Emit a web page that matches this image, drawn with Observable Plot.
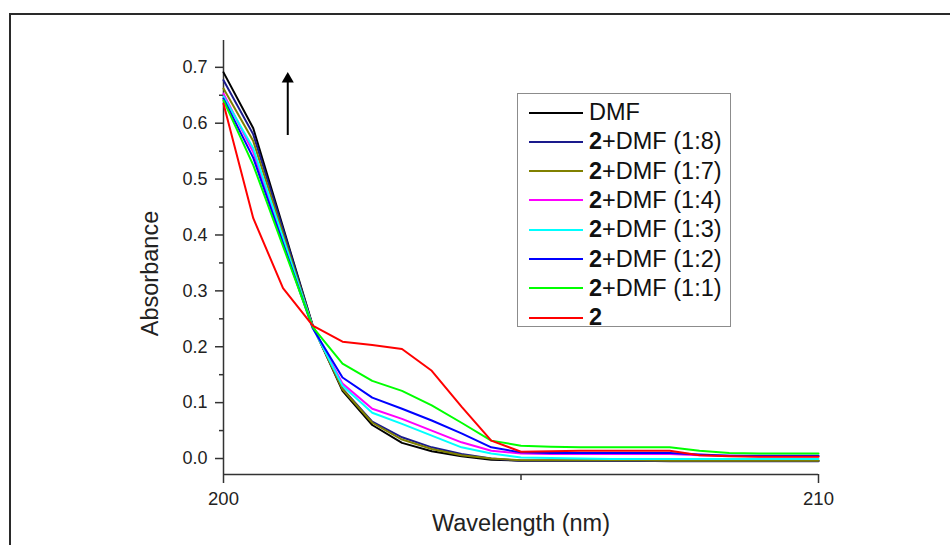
<!DOCTYPE html>
<html><head><meta charset="utf-8">
<script src="https://cdn.jsdelivr.net/npm/d3@7"></script>
<script src="https://cdn.jsdelivr.net/npm/@observablehq/plot@0.6"></script>
<style>
html,body{margin:0;padding:0;background:#fff;overflow:hidden;}
#wrap{position:relative;width:950px;height:545px;overflow:hidden;font-family:"Liberation Sans",Arial,sans-serif;}
#border{position:absolute;left:9px;top:13px;width:1000px;height:600px;border:2px solid #2a2a2a;}
#chart{position:absolute;left:0;top:0;}
#legend{position:absolute;left:517px;top:93px;width:214px;height:234px;border:1.5px solid #8c8c8c;background:#fff;box-sizing:border-box;}
.row{position:absolute;left:0;height:30px;display:flex;align-items:center;font-size:23.5px;color:#111;white-space:nowrap;}
.sw{width:54px;height:2px;margin-left:11px;margin-right:6px;}
</style></head>
<body>
<div id="wrap">
  <div id="border"></div>
  <div id="chart"></div>
  <div id="legend"></div>
</div>
<script>
const wavelength = [200, 200.5, 201, 201.5, 202, 202.5, 203, 203.5, 204, 204.5, 205, 205.5, 206, 206.5, 207, 207.5, 208, 208.5, 209, 209.5, 210];
const dmf   = [0.691, 0.591, 0.414, 0.238, 0.121, 0.060, 0.028, 0.013, 0.004, -0.002, -0.004, -0.004, -0.004, -0.004, -0.004, -0.004, -0.004, -0.004, -0.004, -0.004, -0.004];
const r18   = [0.677, 0.580, 0.410, 0.237, 0.125, 0.066, 0.038, 0.020, 0.008, 0.000, -0.004, -0.004, -0.004, -0.004, -0.004, -0.005, -0.005, -0.005, -0.005, -0.005, -0.005];
const r17   = [0.662, 0.568, 0.402, 0.236, 0.124, 0.064, 0.034, 0.017, 0.006, 0.000, -0.003, -0.003, -0.003, -0.003, -0.003, -0.004, -0.004, -0.004, -0.004, -0.004, -0.004];
const r14   = [0.653, 0.548, 0.390, 0.235, 0.134, 0.089, 0.071, 0.050, 0.029, 0.014, 0.009, 0.008, 0.008, 0.008, 0.008, 0.008, 0.006, 0.005, 0.004, 0.004, 0.004];
const r13   = [0.648, 0.555, 0.395, 0.235, 0.130, 0.082, 0.062, 0.041, 0.020, 0.009, 0.002, 0.001, 0.000, -0.001, -0.001, -0.001, -0.001, -0.001, -0.001, -0.001, -0.001];
const r12   = [0.644, 0.538, 0.385, 0.233, 0.145, 0.109, 0.089, 0.068, 0.045, 0.020, 0.011, 0.010, 0.010, 0.010, 0.010, 0.010, 0.007, 0.005, 0.005, 0.005, 0.005];
const r11   = [0.641, 0.525, 0.380, 0.235, 0.170, 0.139, 0.121, 0.095, 0.064, 0.032, 0.023, 0.021, 0.020, 0.020, 0.020, 0.020, 0.014, 0.010, 0.009, 0.009, 0.009];
const pure2 = [0.635, 0.430, 0.305, 0.238, 0.209, 0.203, 0.196, 0.157, 0.093, 0.032, 0.012, 0.013, 0.014, 0.014, 0.014, 0.014, 0.006, 0.004, 0.003, 0.003, 0.003];

const seriesNames  = ["DMF", "2+DMF (1:8)", "2+DMF (1:7)", "2+DMF (1:4)", "2+DMF (1:3)", "2+DMF (1:2)", "2+DMF (1:1)", "2"];
const seriesColors = ["#000000", "#1a1a8c", "#808000", "#ff00ff", "#00ffff", "#0000ff", "#00ff00", "#ff0000"];
const seriesValues = [dmf, r18, r17, r14, r13, r12, r11, pure2];

const yTicks = [0, 0.1, 0.2, 0.3, 0.4, 0.5, 0.6, 0.7];
const yMinorTicks = [0.05, 0.15, 0.25, 0.35, 0.45, 0.55, 0.65];
const xTicks = [200, 210];
const xMinorTicks = [205];
const xDomain = [200, 210];
const yDomain = [-0.0286, 0.748];
const arrowAnno = [{x: 201.08, y1: 0.578, y2: 0.679}];

const rows = seriesValues.flatMap((vals, k) => vals.map((v, i) => ({x: wavelength[i], y: v, s: seriesNames[k]})));

const chart = Plot.plot({
  width: 950, height: 545,
  marginLeft: 223, marginRight: 132, marginTop: 40, marginBottom: 71,
  style: {background: "transparent", fontFamily: "Liberation Sans, Arial, sans-serif", color: "#222"},
  x: {domain: xDomain},
  y: {domain: yDomain},
  color: {domain: seriesNames, range: seriesColors},
  marks: [
    Plot.axisY(yTicks, {tickSize: 8, tickPadding: 8, fontSize: 18, tickFormat: d3.format(".1f"), label: null, stroke: "#333", strokeWidth: 1.5}),
    Plot.axisY(yMinorTicks, {tickSize: 4, tickFormat: () => "", label: null, stroke: "#333", strokeWidth: 1.5}),
    Plot.axisX(xTicks, {tickSize: 9, tickFormat: () => "", label: null, stroke: "#333", strokeWidth: 1.5}),
    Plot.axisX(xMinorTicks, {tickSize: 6, tickFormat: () => "", label: null, stroke: "#333", strokeWidth: 1.5}),
    Plot.text(xTicks, {x: d => d, frameAnchor: "bottom", dy: 30, fontSize: 18.5, fill: "#222", text: d => String(d)}),
    Plot.ruleX([xDomain[0]], {stroke: "#333", strokeWidth: 1.5}),
    Plot.ruleY([yDomain[0]], {stroke: "#333", strokeWidth: 1.5}),
    Plot.line(rows, {x: "x", y: "y", z: "s", stroke: "s", strokeWidth: 2}),
    Plot.ruleX(arrowAnno, {x: "x", y1: "y1", y2: "y2", strokeWidth: 2, stroke: "#000"}),
    Plot.dot(arrowAnno, {x: "x", y: "y2", symbol: "triangle", r: 4.5, fill: "#000", stroke: "none"}),
    Plot.text(["Absorbance"], {frameAnchor: "left", textAnchor: "middle", rotate: -90, dx: -73, dy: 16, fontSize: 23.5, fill: "#222"}),
    Plot.text(["Wavelength (nm)"], {frameAnchor: "bottom", dy: 56, fontSize: 23.5, fill: "#222"})
  ]
});
document.getElementById("chart").appendChild(chart);

const legend = document.getElementById("legend");
seriesNames.forEach((name, i) => {
  const row = document.createElement("div");
  row.className = "row";
  row.style.top = (3.5 + i * 29.3) + "px";
  const sw = document.createElement("div");
  sw.className = "sw";
  sw.style.background = seriesColors[i];
  const lab = document.createElement("span");
  if (name.startsWith("2")) {
    const b = document.createElement("b");
    b.textContent = "2";
    lab.appendChild(b);
    lab.appendChild(document.createTextNode(name.slice(1)));
  } else {
    lab.textContent = name;
  }
  row.appendChild(sw);
  row.appendChild(lab);
  legend.appendChild(row);
});
</script>
</body></html>
